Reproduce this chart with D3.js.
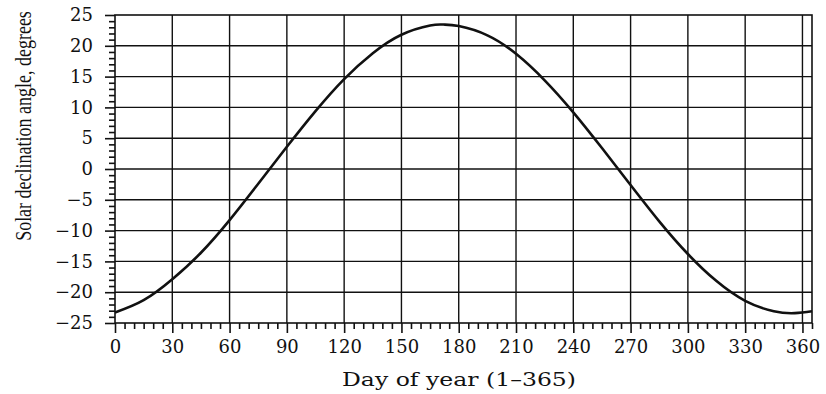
<!DOCTYPE html>
<html><head><meta charset="utf-8">
<script src="https://cdn.jsdelivr.net/npm/d3@7"></script>
<style>
body{margin:0;background:#fff;}
svg{display:block;}
text{font-family:"DejaVu Serif",serif;fill:#111;}
</style></head><body>
<svg id="c" width="826" height="394"></svg>
<script>
const days = [0,15,30,45,60,75,90,105,120,135,150,165,172,180,195,210,225,240,255,270,285,300,315,330,345,356,365];
const declination = [-23.3,-21.3,-17.9,-13.6,-8.3,-2.4,3.6,9.4,14.6,18.8,21.8,23.3,23.45,23.2,21.7,18.7,14.4,9.2,3.4,-2.6,-8.5,-13.8,-18.2,-21.4,-23.1,-23.4,-23.1];
const xTicks = [0,30,60,90,120,150,180,210,240,270,300,330,360];
const yTicks = [-25,-20,-15,-10,-5,0,5,10,15,20,25];
const xLabel = "Day of year (1\u2013365)";
const yLabel = "Solar declination angle, degrees";

const svg = d3.select("#c");
const L=115, R=812, T=15, B=323;
const x = d3.scaleLinear().domain([0,365]).range([L,R]);
const y = d3.scaleLinear().domain([-25,25]).range([B,T]);
const ink = "#111";

// grid
const g = svg.append("g").attr("stroke",ink).attr("stroke-width",1.4);
g.selectAll("line.v").data(xTicks.filter(d=>d>0)).join("line")
  .attr("x1",d=>x(d)).attr("x2",d=>x(d)).attr("y1",T).attr("y2",B);
g.selectAll("line.h").data(yTicks.filter(d=>d>-25 && d<25)).join("line")
  .attr("x1",L).attr("x2",R).attr("y1",d=>y(d)).attr("y2",d=>y(d));
// frame
svg.append("rect").attr("x",L).attr("y",T).attr("width",R-L).attr("height",B-T)
  .attr("fill","none").attr("stroke",ink).attr("stroke-width",1.6);

// minor ticks
const xMinor = d3.range(0,366,5).filter(d=>d%30!==0);
const yMinor = d3.range(-25,26,1).filter(d=>d%5!==0);

const xAxis = svg.append("g").attr("transform",`translate(0,${B})`)
  .call(d3.axisBottom(x).tickValues(xMinor).tickSize(6).tickFormat(""));
const xAxisM = svg.append("g").attr("transform",`translate(0,${B})`)
  .call(d3.axisBottom(x).tickValues(xTicks).tickSize(10).tickPadding(7).tickFormat(d3.format("d")));
const yAxis = svg.append("g").attr("transform",`translate(${L},0)`)
  .call(d3.axisLeft(y).tickValues(yMinor).tickSize(6).tickFormat(""));
const yAxisM = svg.append("g").attr("transform",`translate(${L},0)`)
  .call(d3.axisLeft(y).tickValues(yTicks).tickSize(10).tickPadding(12).tickFormat(d=>d<0?"\u2212"+Math.abs(d):d));
[xAxis,xAxisM,yAxis,yAxisM].forEach(a=>{
  a.select(".domain").remove();
  a.selectAll("line").attr("stroke",ink).attr("stroke-width",1.6);
  a.selectAll("text").attr("font-family","DejaVu Serif").attr("font-size",18).attr("fill",ink);
});

// curve
const line = d3.line().x((d,i)=>x(days[i])).y(d=>y(d)).curve(d3.curveNatural);
svg.append("path").datum(declination).attr("d",line)
  .attr("fill","none").attr("stroke",ink).attr("stroke-width",2.6);

// labels
svg.append("text").attr("x",459).attr("y",386).attr("text-anchor","middle")
  .attr("font-size",19).attr("textLength",234).attr("lengthAdjust","spacingAndGlyphs").text(xLabel);
svg.append("text").attr("transform","translate(31,126) scale(1.3,1) rotate(-90)").attr("text-anchor","middle")
  .style("font-family","'Liberation Serif',serif").attr("font-size",18).text(yLabel);
</script></body></html>
